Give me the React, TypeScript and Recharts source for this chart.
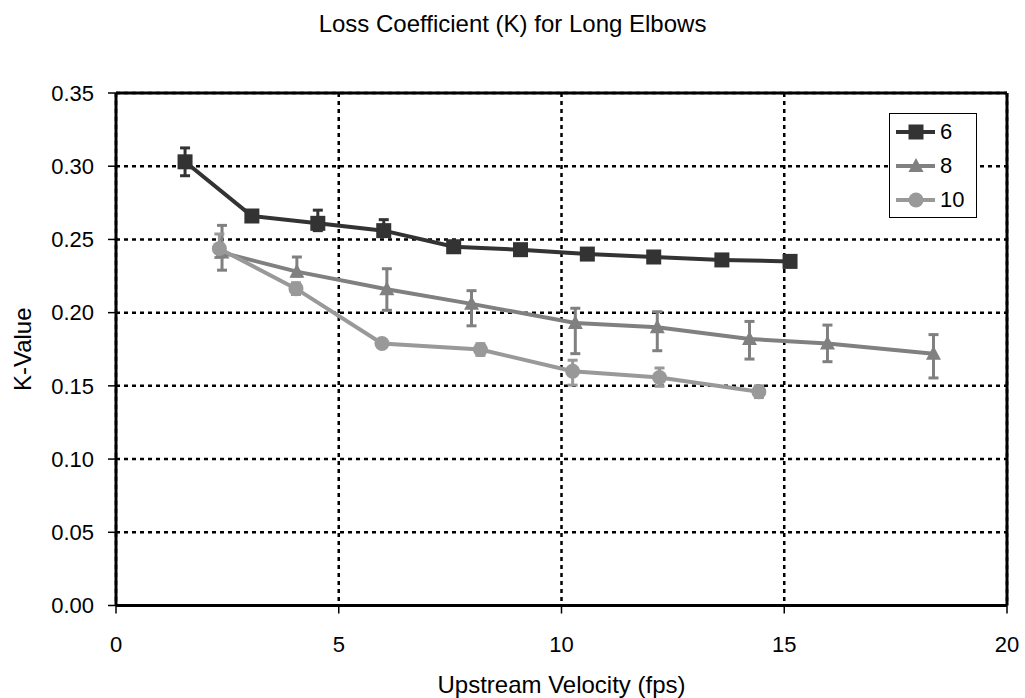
import React from 'react';
import {
  ScatterChart,
  Scatter,
  XAxis,
  YAxis,
  CartesianGrid,
  ErrorBar,
  Legend,
  ReferenceLine,
} from 'recharts';

// velocities (fps), K values and [minus, plus] error per pipe size
const vel6 = [1.55, 3.05, 4.53, 6.01, 7.58, 9.08, 10.58, 12.07, 13.6, 15.13];
const k6 = [0.303, 0.266, 0.261, 0.256, 0.245, 0.243, 0.240, 0.238, 0.236, 0.235];
const err6 = [
  [0.0095, 0.0095], [0.002, 0.002], [0.005, 0.009], [0.004, 0.0075], [0.002, 0.002],
  [0.002, 0.002], [0.002, 0.002], [0.002, 0.002], [0.002, 0.002], [0.002, 0.002],
];

const vel8 = [2.38, 4.06, 6.08, 7.98, 10.31, 12.15, 14.22, 15.97, 18.35];
const k8 = [0.241, 0.228, 0.216, 0.206, 0.193, 0.190, 0.182, 0.179, 0.172];
const err8 = [
  [0.012, 0.0186], [0.003, 0.010], [0.0144, 0.014], [0.015, 0.009], [0.021, 0.010],
  [0.016, 0.0106], [0.0137, 0.012], [0.0125, 0.0125], [0.0166, 0.013],
];

const vel10 = [2.32, 4.04, 5.97, 8.18, 10.25, 12.2, 14.43];
const k10 = [0.2437, 0.2164, 0.1789, 0.1748, 0.1600, 0.1557, 0.1460];
const err10 = [
  [0.006, 0.010], [0.004, 0.004], [0.002, 0.002], [0.004, 0.004],
  [0.0095, 0.0075], [0.006, 0.0065], [0.004, 0.004],
];

const xTicks = [0, 5, 10, 15, 20];
const yTicks = [0, 0.05, 0.1, 0.15, 0.2, 0.25, 0.3, 0.35];

const FONT = '"Liberation Sans", Arial, sans-serif';

const toPoints = (xs: number[], ks: number[], es: number[][]) =>
  xs.map((x, i) => ({ x, k: ks[i], err: es[i] }));

const drawMarker = (kind: string, cx: number, cy: number, color: string) => {
  if (kind === 'square') {
    return <rect x={cx - 7.5} y={cy - 7.5} width={15} height={15} fill={color} />;
  }
  if (kind === 'triangle') {
    return (
      <polygon
        points={`${cx},${cy - 8} ${cx + 7.5},${cy + 6} ${cx - 7.5},${cy + 6}`}
        fill={color}
      />
    );
  }
  return <circle cx={cx} cy={cy} r={7.5} fill={color} />;
};

const series = [
  { name: '6', color: '#333333', marker: 'square', data: toPoints(vel6, k6, err6) },
  { name: '8', color: '#808080', marker: 'triangle', data: toPoints(vel8, k8, err8) },
  { name: '10', color: '#999999', marker: 'circle', data: toPoints(vel10, k10, err10) },
];

const renderLegend = () => (
  <div
    style={{
      border: '1px solid #000',
      background: '#fff',
      width: 86,
      height: 102,
      paddingTop: 1,
      fontFamily: FONT,
    }}
  >
    {series.map((s) => (
      <div key={s.name} style={{ display: 'flex', alignItems: 'center', height: 34 }}>
        <svg width={48} height={20} style={{ display: 'block' }}>
          <line x1={6} x2={45} y1={10} y2={10} stroke={s.color} strokeWidth={4} />
          {drawMarker(s.marker, 26, 10, s.color)}
        </svg>
        <span style={{ fontSize: 22, color: '#000', marginLeft: 2 }}>{s.name}</span>
      </div>
    ))}
  </div>
);

export default function App() {
  return (
    <div style={{ position: 'absolute', left: 0, top: 0, width: 1025, height: 698, background: '#fff' }}>
      <div
        style={{
          position: 'absolute',
          left: 0,
          top: 12,
          width: 1025,
          textAlign: 'center',
          fontFamily: FONT,
          fontSize: 24,
          lineHeight: '24px',
          color: '#000',
        }}
      >
        Loss Coefficient (K) for Long Elbows
      </div>
      <ScatterChart width={1025} height={698} margin={{ top: 93, right: 18, left: 0, bottom: 0 }}>
        <CartesianGrid stroke="#000" strokeWidth={2.5} strokeDasharray="4 4" />
        <XAxis
          type="number"
          dataKey="x"
          domain={[0, 20]}
          ticks={xTicks}
          height={92.5}
          tickSize={8}
          tickMargin={23}
          axisLine={{ stroke: '#000', strokeWidth: 3 }}
          tickLine={{ stroke: '#000', strokeWidth: 1.5 }}
          tick={{ fill: '#000', fontSize: 22, fontFamily: FONT }}
          label={{
            value: 'Upstream Velocity (fps)',
            position: 'insideBottom',
            offset: 5,
            fill: '#000',
            fontSize: 24,
            fontFamily: FONT,
          }}
        />
        <YAxis
          type="number"
          dataKey="k"
          domain={[0, 0.35]}
          ticks={yTicks}
          width={116}
          tickSize={8}
          tickMargin={14}
          tickFormatter={(v: number) => v.toFixed(2)}
          axisLine={{ stroke: '#000', strokeWidth: 3 }}
          tickLine={{ stroke: '#000', strokeWidth: 1.5 }}
          tick={{ fill: '#000', fontSize: 22, fontFamily: FONT }}
          label={(props: any) => {
            const vb = props.viewBox || { x: 0, y: 93, height: 512 };
            const cx = vb.x + 22;
            const cy = vb.y + vb.height / 2;
            return (
              <text
                x={cx}
                y={cy}
                transform={`rotate(-90, ${cx}, ${cy})`}
                textAnchor="middle"
                dominantBaseline="central"
                fill="#000"
                fontSize={24}
                fontFamily={FONT}
              >
                K-Value
              </text>
            );
          }}
        />
        <ReferenceLine y={0.35} stroke="#000" strokeWidth={3} />
        <ReferenceLine x={20} stroke="#000" strokeWidth={3} />
        {series.map((s) => (
          <Scatter
            key={s.name}
            name={s.name}
            data={s.data}
            fill={s.color}
            line={{ stroke: s.color, strokeWidth: 4 }}
            isAnimationActive={false}
            shape={(p: any) => drawMarker(s.marker, p.cx, p.cy, s.color)}
          >
            <ErrorBar dataKey="err" direction="y" width={5} strokeWidth={3} stroke={s.color} />
          </Scatter>
        ))}
        <Legend
          layout="vertical"
          align="center"
          verticalAlign="middle"
          content={renderLegend}
          wrapperStyle={{ position: 'absolute', left: 889, top: 113, width: 88, height: 104 }}
        />
      </ScatterChart>
    </div>
  );
}
